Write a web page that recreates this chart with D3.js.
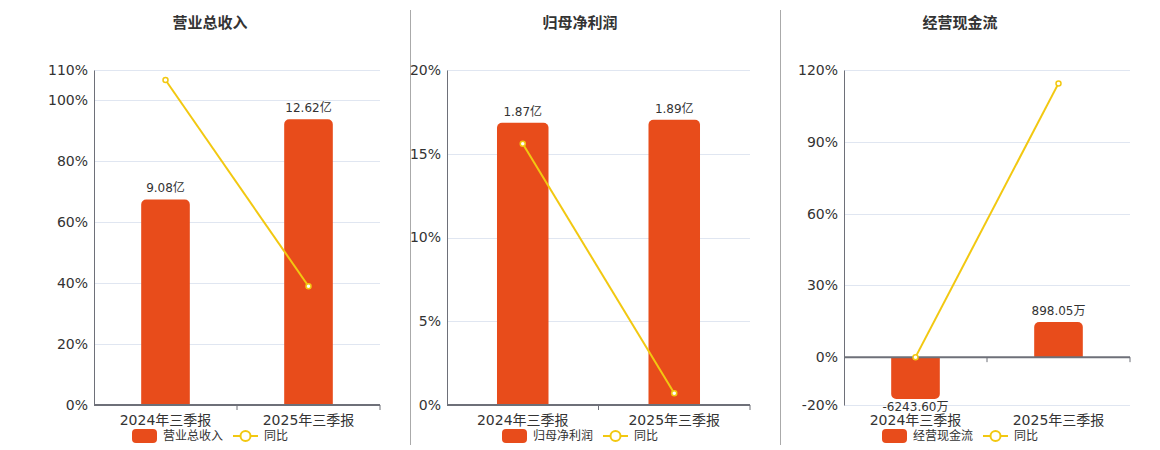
<!DOCTYPE html>
<html lang="zh">
<head>
<meta charset="UTF-8">
<title>财务指标</title>
<style>
    body { margin: 0; background: #fff; }
    text { font-family: "DejaVu Sans", "Noto Sans CJK SC", sans-serif; fill: #333; }
</style>
</head>
<body>
<div id="chart"></div>
<script src="https://d3js.org/d3.v7.min.js"></script>
<script>
// data
var categories = ["2024年三季报", "2025年三季报"];

var revenue = [9.08, 12.62];          // 亿
var revenueYoY = [106.7, 39.0];       // %
var profit = [1.87, 1.89];            // 亿
var profitYoY = [15.6, 0.7];
var cashflow = [-6243.60, 898.05];    // 万
var cashflowYoY = [0, 114.4];

var revenueTicks = [0, 20, 40, 60, 80, 100, 110];
var profitTicks = [0, 5, 10, 15, 20];
var cashflowTicks = [-20, 0, 30, 60, 90, 120];

var barColor = "#e84c1b", lineColor = "#f2c811";

var panels = [
    {title: "营业总收入", values: revenue, yoy: revenueYoY, unit: "亿", ticks: revenueTicks,
     pct: [0, 110], bar: [0, 14.8], left: 94, right: 380, center: 210},
    {title: "归母净利润", values: profit, yoy: profitYoY, unit: "亿", ticks: profitTicks,
     pct: [0, 20], bar: [0, 2.22], left: 447, right: 750, center: 580},
    {title: "经营现金流", values: cashflow, yoy: cashflowYoY, unit: "万", ticks: cashflowTicks,
     pct: [-20, 120], bar: [-1226, 7356], left: 844, right: 1130, center: 960}
];

var W = 1160, H = 450, plotTop = 70, plotBottom = 405;

var svg = d3.select("#chart").append("svg")
    .attr("width", W).attr("height", H);

// separators between panels
[410, 780].forEach(function(x) {
    svg.append("line").attr("x1", x + 0.5).attr("x2", x + 0.5).attr("y1", 10).attr("y2", 445)
        .attr("stroke", "#aaa").attr("stroke-width", 1);
});

panels.forEach(function(p) {
    var g = svg.append("g");

    var x = d3.scaleBand().domain(categories).range([p.left, p.right]);
    var y = d3.scaleLinear().domain(p.pct).range([plotBottom, plotTop]);
    // bars use their own hidden scale; values past the bottom get clipped
    var yb = d3.scaleLinear().domain(p.bar).range([plotBottom, plotTop]).clamp(true);

    g.append("text").attr("x", p.center).attr("y", 28)
        .attr("text-anchor", "middle").attr("font-size", 15).attr("font-weight", "bold")
        .text(p.title);

    // grid
    g.selectAll(".grid").data(p.ticks).enter().append("line")
        .attr("x1", p.left).attr("x2", p.right)
        .attr("y1", function(d) { return Math.round(y(d)) + 0.5; })
        .attr("y2", function(d) { return Math.round(y(d)) + 0.5; })
        .attr("stroke", "#e0e6f1");

    // y axis
    var yAxis = d3.axisLeft(y).tickValues(p.ticks).tickSize(0).tickPadding(6)
        .tickFormat(function(d) { return d + "%"; });
    var ya = g.append("g").attr("transform", "translate(" + p.left + ",0)").call(yAxis);
    ya.select(".domain").attr("stroke", "#6e7079");
    ya.selectAll("text").attr("font-size", 14).style("fill", "#333").attr("font-family", null);

    // bars
    var zero = yb(0);
    function barEnd(d) { return d >= 0 ? yb(d) : Math.min(yb(d), plotBottom - 6); }
    g.selectAll(".bar").data(p.values).enter().append("path")
        .attr("fill", barColor)
        .attr("d", function(d, i) {
            var bw = x.bandwidth() * 0.34;
            var cx = x(categories[i]) + x.bandwidth() / 2;
            return barPath(cx - bw / 2, bw, zero, barEnd(d), 5);
        });

    // x axis at zero
    var xAxis = d3.axisBottom(x).tickSize(5).tickFormat("");
    var xa = g.append("g").attr("transform", "translate(0," + y(0) + ")").call(xAxis);
    xa.select(".domain").attr("stroke", "#6e7079").attr("stroke-width", 2)
        .attr("d", "M" + p.left + ",0H" + p.right);
    xa.selectAll(".tick line").attr("stroke", "#6e7079")
        .attr("transform", "translate(" + x.bandwidth() / 2 + ",0)");

    // category labels
    g.selectAll(".cat").data(categories).enter().append("text")
        .attr("x", function(d) { return x(d) + x.bandwidth() / 2; })
        .attr("y", 425).attr("text-anchor", "middle").attr("font-size", 14)
        .text(function(d) { return d; });

    // value labels
    g.selectAll(".val").data(p.values).enter().append("text")
        .attr("x", function(d, i) { return x(categories[i]) + x.bandwidth() / 2; })
        .attr("y", function(d) { return d >= 0 ? barEnd(d) - 7 : barEnd(d) + 8; })
        .attr("text-anchor", "middle").attr("font-size", 12)
        .attr("dominant-baseline", function(d) { return d >= 0 ? "auto" : "middle"; })
        .text(function(d) { return d.toFixed(2) + p.unit; });

    // yoy line
    var line = d3.line()
        .x(function(d, i) { return x(categories[i]) + x.bandwidth() / 2; })
        .y(function(d) { return y(d); });
    g.append("path").datum(p.yoy).attr("d", line)
        .attr("fill", "none").attr("stroke", lineColor).attr("stroke-width", 2);
    g.selectAll(".pt").data(p.yoy).enter().append("circle")
        .attr("cx", function(d, i) { return x(categories[i]) + x.bandwidth() / 2; })
        .attr("cy", function(d) { return y(d); })
        .attr("r", 2.5).attr("fill", "#fff").attr("stroke", lineColor).attr("stroke-width", 1.5);

    // legend
    var lg = g.append("g").attr("transform", "translate(" + (p.center - 78) + ",436)");
    lg.append("rect").attr("x", 0).attr("y", -7).attr("width", 25).attr("height", 14)
        .attr("rx", 4).attr("fill", barColor);
    lg.append("text").attr("x", 31).attr("y", 0).attr("dominant-baseline", "central")
        .attr("font-size", 12).text(p.title);
    lg.append("line").attr("x1", 101).attr("x2", 126).attr("y1", 0).attr("y2", 0)
        .attr("stroke", lineColor).attr("stroke-width", 2);
    lg.append("circle").attr("cx", 113.5).attr("cy", 0).attr("r", 5)
        .attr("fill", "#fff").attr("stroke", lineColor).attr("stroke-width", 2);
    lg.append("text").attr("x", 132).attr("y", 0).attr("dominant-baseline", "central")
        .attr("font-size", 12).text("同比");
});

// bar with rounded corners on the end away from zero
function barPath(x0, w, yZero, yEnd, r) {
    var h = Math.abs(yEnd - yZero);
    r = Math.min(r, h / 2, w / 2);
    if (yEnd <= yZero) {
        return "M" + x0 + "," + yZero +
            "V" + (yEnd + r) +
            "A" + r + "," + r + " 0 0 1 " + (x0 + r) + "," + yEnd +
            "H" + (x0 + w - r) +
            "A" + r + "," + r + " 0 0 1 " + (x0 + w) + "," + (yEnd + r) +
            "V" + yZero + "Z";
    }
    return "M" + x0 + "," + yZero +
        "V" + (yEnd - r) +
        "A" + r + "," + r + " 0 0 0 " + (x0 + r) + "," + yEnd +
        "H" + (x0 + w - r) +
        "A" + r + "," + r + " 0 0 0 " + (x0 + w) + "," + (yEnd - r) +
        "V" + yZero + "Z";
}
</script>
</body>
</html>
